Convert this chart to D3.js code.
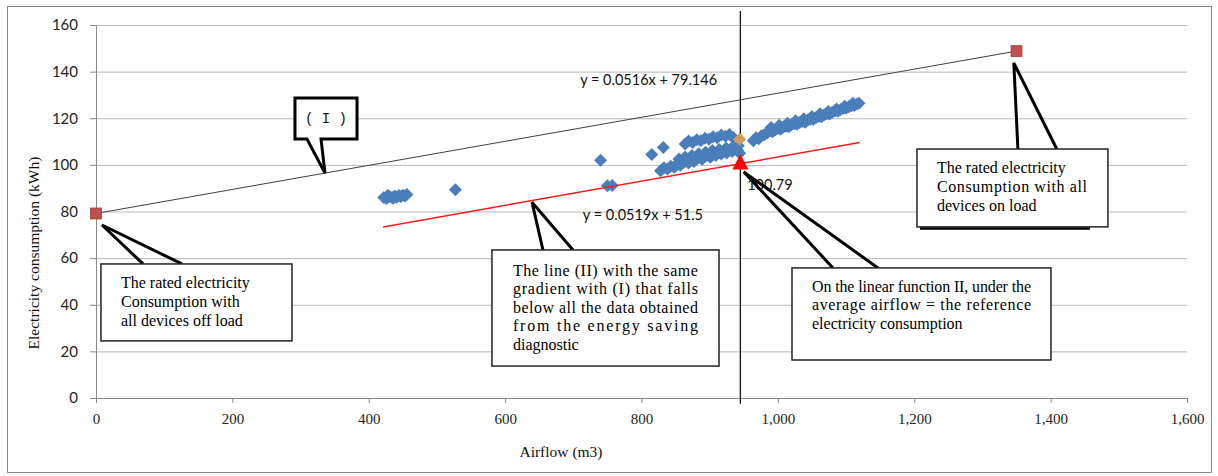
<!DOCTYPE html>
<html><head><meta charset="utf-8">
<script src="https://cdn.jsdelivr.net/npm/d3@7"></script>
<style>body{margin:0;background:#fff}svg{display:block}</style>
</head><body><svg id="c" width="1218" height="476"></svg>
<script>
// ---------- data ----------
const xTicks = [0, 200, 400, 600, 800, 1000, 1200, 1400, 1600];
const yTicks = [0, 20, 40, 60, 80, 100, 120, 140, 160];
const diagnosticPoints = [
  [422,86.0],[426,85.6],[430,86.4],[434,86.0],[438,86.6],[441,86.1],[444,86.9],[447,86.4],[450,87.0],[453,86.6],[456,87.3],[428,86.9],[436,85.7],
  [527,89.3],[740,102.0],[750,91.0],[757,91.2],[815,104.4],[832,107.4],
  [828,97.5],[833,98.8],[838,98.2],[843,99.4],[848,99.0],[852,100.2],[857,99.8],[861,100.9],[865,101.6],[869,100.8],[873,102.0],[877,101.5],[881,102.6],[885,103.2],[889,102.4],[893,103.6],[897,104.1],[901,103.3],[905,104.6],[909,104.0],[913,105.2],[917,104.7],[921,105.8],[925,105.1],[929,106.3],[933,105.7],[937,106.8],[941,106.2],[944,105.0],
  [855,102.5],[864,103.4],[874,104.0],[884,104.8],[894,105.4],[904,106.2],[914,106.6],[924,107.2],[934,107.8],[942,108.2],
  [864,109.0],[869,110.2],[875,109.6],[881,110.8],[887,110.3],[893,111.4],[899,111.0],[905,112.1],[911,111.6],[917,112.8],[923,112.3],[929,113.0],[934,111.8],
  [964,110.4],[968,111.6],[972,111.2],[976,112.5],[980,112.9],[984,113.6],[988,114.5],[992,114.2],[996,115.0],[1000,115.6],[1004,115.3],[1008,116.2],[1012,116.6],[1016,116.4],[1020,117.3],[1024,117.6],[1028,117.4],[1032,118.2],[1036,118.6],[1040,118.3],[1044,119.2],[1048,119.6],[1052,119.5],[1056,120.3],[1060,120.8],[1064,120.6],[1068,121.5],[1072,121.9],[1076,121.8],[1080,122.6],[1084,123.1],[1088,123.0],[1092,123.8],[1096,124.2],[1100,124.3],[1104,124.9],[1108,125.4],[1112,125.5],[1116,126.1],[1119,126.4],
  [990,116.0],[1002,117.0],[1014,117.9],[1026,118.9],[1038,119.8],[1050,120.8],[1062,121.9],[1074,122.9],[1086,124.0],[1098,125.2],[1110,126.4]
];
const ratedAirflow = [0, 1350];
const ratedKWh = [79.146, 148.8];
const averagePoint = [944, 111.0];
const referenceAirflow = 945;
const referenceKWh = 100.79;
const lineICoef = [0.0516, 79.146];
const lineIRange = [0, 1350];
const lineIICoef = [0.0519, 51.5];
const lineIIRange = [421, 1120];
const equationLabels = ["y = 0.0516x + 79.146", "y = 0.0519x + 51.5"];
const referenceLabel = "100.79";
const xTitle = "Airflow (m3)";
const yTitle = "Electricity consumption (kWh)";

// ---------- layout ----------
const svg = d3.select("#c");
const x = d3.scaleLinear([0, 1600], [96, 1187]);
const y = d3.scaleLinear([0, 160], [398, 25]);

svg.append("rect").attr("x", 7.5).attr("y", 6.5).attr("width", 1204).attr("height", 466)
  .attr("fill", "#fff").attr("stroke", "#8a8a8a").attr("stroke-width", 1);

// gridlines
svg.append("g").attr("transform", `translate(${x(0)},0)`)
  .call(d3.axisLeft(y).tickValues(yTicks.slice(1)).tickSize(-(x(1600) - x(0))).tickFormat(""))
  .call(g => g.select(".domain").remove())
  .call(g => g.selectAll("line").attr("stroke", "#b9b9b9"));

// y axis
svg.append("g").attr("transform", `translate(${x(0)},0)`)
  .call(d3.axisLeft(y).tickValues(yTicks).tickSize(6).tickPadding(12))
  .call(g => g.select(".domain").attr("stroke", "#8a8a8a"))
  .call(g => g.selectAll("line").attr("stroke", "#8a8a8a"))
  .call(g => g.selectAll("text").attr("font-family", "Lato, 'Open Sans', sans-serif").attr("font-size", 15).attr("fill", "#222"));

// x axis
svg.append("g").attr("transform", `translate(0,${y(0)})`)
  .call(d3.axisBottom(x).tickValues(xTicks).tickFormat(d3.format(",")).tickSize(5).tickPadding(10))
  .call(g => g.select(".domain").attr("stroke", "#8a8a8a"))
  .call(g => g.selectAll("line").attr("stroke", "#8a8a8a"))
  .call(g => g.selectAll("text").attr("font-family", "'Liberation Serif', serif").attr("font-size", 15).attr("fill", "#222"));

// axis titles
svg.append("text").attr("x", 561).attr("y", 457).attr("text-anchor", "middle")
  .attr("font-family", "'Liberation Serif', serif").attr("font-size", 15.5).attr("fill", "#111").text(xTitle);
svg.append("text").attr("transform", "translate(39,253) rotate(-90)").attr("text-anchor", "middle")
  .attr("font-family", "'Liberation Serif', serif").attr("font-size", 15.5).attr("fill", "#111").text(yTitle);

// vertical reference line
svg.append("line").attr("x1", x(referenceAirflow)).attr("x2", x(referenceAirflow))
  .attr("y1", y(166)).attr("y2", y(-2.5)).attr("stroke", "#111").attr("stroke-width", 1.3);

// line I
svg.append("line").attr("x1", x(lineIRange[0])).attr("y1", y(lineICoef[0] * lineIRange[0] + lineICoef[1]))
  .attr("x2", x(lineIRange[1])).attr("y2", y(lineICoef[0] * lineIRange[1] + lineICoef[1]))
  .attr("stroke", "#404040").attr("stroke-width", 1);

// scatter
const diamond = "M0,-6.5L6.5,0L0,6.5L-6.5,0Z";
svg.append("g").selectAll("path").data(diagnosticPoints).join("path")
  .attr("d", diamond).attr("transform", d => `translate(${x(d[0])},${y(d[1])})`)
  .attr("fill", "#4a7ebb");

svg.append("path").attr("d", diamond)
  .attr("transform", `translate(${x(averagePoint[0])},${y(averagePoint[1])})`)
  .attr("fill", "#d39a5c");

// line II
svg.append("line").attr("x1", x(lineIIRange[0])).attr("y1", y(lineIICoef[0] * lineIIRange[0] + lineIICoef[1]))
  .attr("x2", x(lineIIRange[1])).attr("y2", y(lineIICoef[0] * lineIIRange[1] + lineIICoef[1]))
  .attr("stroke", "#ff1a1a").attr("stroke-width", 1.5);

// rated squares
svg.append("g").selectAll("rect").data(ratedAirflow).join("rect")
  .attr("x", (d) => x(d) - 5.5).attr("y", (d, i) => y(ratedKWh[i]) - 5.5)
  .attr("width", 11).attr("height", 11).attr("fill", "#c0504d").attr("stroke", "#a84442").attr("stroke-width", 0.8);

// reference triangle
svg.append("path").attr("d", "M0,-9L8,6.5L-8,6.5Z")
  .attr("transform", `translate(${x(referenceAirflow)},${y(referenceKWh)})`).attr("fill", "#ff0000");

// labels
const sans = "Lato, 'Open Sans', sans-serif";
svg.append("text").attr("x", x(710)).attr("y", y(134.3)).attr("font-family", sans).attr("font-size", 14.5).attr("fill", "#111").text(equationLabels[0]);
svg.append("text").attr("x", x(714)).attr("y", y(76.4)).attr("font-family", sans).attr("font-size", 14.5).attr("fill", "#111").text(equationLabels[1]);
svg.append("text").attr("x", x(955)).attr("y", y(89.2)).attr("font-family", sans).attr("font-size", 14.5).attr("fill", "#111").text(referenceLabel);

// ---------- callouts ----------
const serif = "'Liberation Serif', 'Times New Roman', serif";
function pointer(baseA, baseB, baseK, tip) {
  svg.append("path")
    .attr("d", `M${x(baseA)},${y(baseK)}L${x(tip[0])},${y(tip[1])}L${x(baseB)},${y(baseK)}`)
    .attr("fill", "none").attr("stroke", "#000").attr("stroke-width", 3).attr("stroke-linejoin", "miter");
}
function box(a0, k0, a1, k1, lines, opts) {
  const x0 = x(a0), y0 = y(k0), x1 = x(a1), y1 = y(k1);
  if (opts.shadow) {
    svg.append("line").attr("x1", x0 + 3).attr("x2", x1 - 18).attr("y1", y1 + 1.5).attr("y2", y1 + 1.5)
      .attr("stroke", "#000").attr("stroke-width", 2.5);
  }
  svg.append("rect").attr("x", x0).attr("y", y0).attr("width", x1 - x0).attr("height", y1 - y0)
    .attr("fill", "#fff").attr("stroke", "#222").attr("stroke-width", 1.5);
  lines.forEach((ln, i) => {
    const t = svg.append("text").attr("x", x0 + opts.padX).attr("y", y0 + opts.first + i * opts.lh)
      .attr("font-family", serif).attr("font-size", 16).attr("fill", "#000").text(ln.t);
    if (ln.j) t.attr("textLength", opts.w).attr("lengthAdjust", "spacing");
  });
}

// (I) bubble
(function () {
  const a0 = 291.8, a1 = 382.8, k0 = 128.7, k1 = 111.1, wb0 = 309.4, wb1 = 330, tip = [335.8, lineICoef[0] * 335.8 + lineICoef[1]];
  const p = `M${x(a0)},${y(k0)}L${x(a1)},${y(k0)}L${x(a1)},${y(k1)}L${x(wb1)},${y(k1)}L${x(tip[0])},${y(tip[1])}L${x(wb0)},${y(k1)}L${x(a0)},${y(k1)}Z`;
  svg.append("path").attr("d", p).attr("fill", "#fff").attr("stroke", "#000").attr("stroke-width", 3).attr("stroke-linejoin", "miter");
  svg.append("text").attr("x", (x(a0) + x(a1)) / 2).attr("y", (y(k0) + y(k1)) / 2 + 5).attr("text-anchor", "middle")
    .attr("font-family", "'Liberation Mono', monospace").attr("font-size", 14).attr("fill", "#111").attr("xml:space", "preserve").text("( I )");
})();

pointer(69, 126, 57.5, [8.8, 74.2]);
box(7.3, 57.5, 287.4, 24.5, [
  {t: "The rated electricity"}, {t: "Consumption with"}, {t: "all devices off load"}
], {padX: 20, first: 24, lh: 19, w: 150});

pointer(655.5, 699.5, 63.5, [639.4, 84]);
box(580.7, 63.5, 913.7, 13.7, [
  {t: "The line (II) with the same", j: 1}, {t: "gradient with (I) that falls", j: 1},
  {t: "below all the data obtained", j: 1}, {t: "from the energy saving", j: 1}, {t: "diagnostic"}
], {padX: 21, first: 26, lh: 18.5, w: 185});

pointer(1080.8, 1146.8, 55.8, [950, 97]);
box(1020.7, 55.8, 1400.5, 16.3, [
  {t: "On the linear function II, under the", j: 1}, {t: "average airflow = the reference", j: 1},
  {t: "electricity consumption"}
], {padX: 20, first: 24, lh: 18.3, w: 219});

pointer(1352, 1409, 106.8, [1346, 143.7]);
box(1204, 106.8, 1484, 73.4, [
  {t: "The rated electricity"}, {t: "Consumption with all", j: 1}, {t: "devices on load"}
], {padX: 20, first: 24, lh: 19, w: 150, shadow: true});
</script></body></html>
